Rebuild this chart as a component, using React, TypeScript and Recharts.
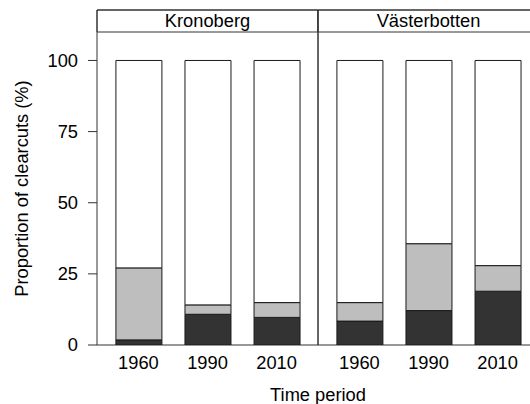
import React from 'react';
import { ComposedChart, Bar, XAxis, YAxis, ReferenceArea } from 'recharts';

const regions = ['Kronoberg', 'Västerbotten'];
const periods = ['1960', '1990', '2010'];
const darkKronoberg = [1.8, 10.8, 9.7];
const greyKronoberg = [25.3, 3.3, 5.2];
const darkVasterbotten = [8.4, 12.1, 18.9];
const greyVasterbotten = [6.5, 23.5, 9.0];
const yTicks = [0, 25, 50, 75, 100];

const PANEL_SPAN = 3.2;
const PANEL_START = -0.6;
const Y_MAX = 110;
const STRIP_TOP = 117.73;

const darkByRegion = [darkKronoberg, darkVasterbotten];
const greyByRegion = [greyKronoberg, greyVasterbotten];

const data = regions.flatMap((region, r) =>
  periods.map((period, i) => {
    const dark = darkByRegion[r][i];
    const grey = greyByRegion[r][i];
    return { x: r * PANEL_SPAN + i, region, period, dark, grey, white: 100 - dark - grey };
  })
);

const FONT = '"Liberation Sans", Arial, sans-serif';
const FS = 18.3;
const LINE = '#333333';

const tickLabel = (v: number) => {
  const row = data.find((d) => Math.abs(d.x - v) < 1e-6);
  return row ? row.period : '';
};

export default function App() {
  return (
    <div
      style={{
        position: 'absolute',
        left: 0,
        top: 0,
        width: 530,
        height: 404,
        overflow: 'hidden',
        background: '#ffffff',
      }}
    >
      <ComposedChart
        width={540}
        height={404}
        data={data}
        margin={{ top: 32, right: 1, bottom: 0, left: 0 }}
        style={{ fontFamily: FONT }}
      >
        <XAxis
          type="number"
          dataKey="x"
          domain={[PANEL_START, PANEL_START + PANEL_SPAN * regions.length]}
          allowDataOverflow
          ticks={data.map((d) => d.x)}
          interval={0}
          tickFormatter={tickLabel}
          axisLine={false}
          tickLine={false}
          tickSize={5}
          tickMargin={6}
          height={59}
          tick={{ fill: '#000', fontSize: FS }}
          label={{ value: 'Time period', position: 'insideBottom', offset: 3, fill: '#000', fontSize: FS }}
        />
        <YAxis
          type="number"
          domain={[0, Y_MAX]}
          allowDataOverflow
          ticks={yTicks}
          width={97}
          axisLine={false}
          tickLine={{ stroke: LINE }}
          tickSize={9}
          tickMargin={10}
          tick={{ fill: '#000', fontSize: FS }}
          label={{
            value: 'Proportion of clearcuts (%)',
            angle: -90,
            position: 'insideLeft',
            offset: 22,
            fill: '#000',
            fontSize: FS,
            style: { textAnchor: 'middle' },
          }}
        />
        <Bar dataKey="dark" stackId="s" fill="#333333" stroke="#1a1a1a" strokeWidth={1} barSize={46} isAnimationActive={false} />
        <Bar dataKey="grey" stackId="s" fill="#bebebe" stroke="#1a1a1a" strokeWidth={1} barSize={46} isAnimationActive={false} />
        <Bar dataKey="white" stackId="s" fill="#ffffff" stroke="#1a1a1a" strokeWidth={1} barSize={46} isAnimationActive={false} />
        {regions.map((region, r) => (
          <ReferenceArea
            key={'strip-' + region}
            x1={PANEL_START + r * PANEL_SPAN}
            x2={PANEL_START + (r + 1) * PANEL_SPAN}
            y1={Y_MAX}
            y2={STRIP_TOP}
            ifOverflow="visible"
            fill="#ffffff"
            fillOpacity={1}
            stroke={LINE}
            strokeWidth={1}
            label={{ value: region, position: 'center', fill: '#000', fontSize: FS }}
          />
        ))}
        {regions.map((region, r) => (
          <ReferenceArea
            key={'frame-' + region}
            x1={PANEL_START + r * PANEL_SPAN}
            x2={PANEL_START + (r + 1) * PANEL_SPAN}
            y1={0}
            y2={STRIP_TOP}
            ifOverflow="visible"
            fill="none"
            stroke={LINE}
            strokeWidth={1}
          />
        ))}
      </ComposedChart>
    </div>
  );
}
